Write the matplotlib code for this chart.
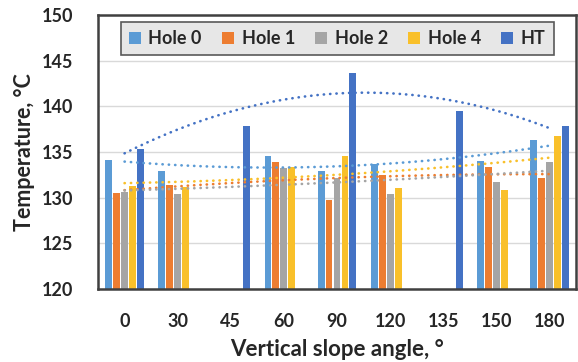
import matplotlib
matplotlib.use('Agg')
import numpy as np
import matplotlib.pyplot as plt

#-----------------------------------------------------------------------------
## Data
#-----------------------------------------------------------------------------
angles = ['0', '30', '45', '60', '90', '120', '135', '150', '180']
hole0 = [134.1, 132.9, np.nan, 134.6, 132.9, 133.7, np.nan, 134.05, 136.3]
hole1 = [130.5, 131.4, np.nan, 133.9, 129.7, 132.5, np.nan, 133.4, 132.2]
hole2 = [130.65, 130.4, np.nan, 133.2, 132.1, 130.4, np.nan, 131.7, 133.9]
hole4 = [131.3, 131.2, np.nan, 133.4, 134.6, 131.1, np.nan, 130.8, 136.7]
ht = [135.3, np.nan, 137.8, np.nan, 143.6, np.nan, 139.5, np.nan, 137.9]
names = ['Hole 0', 'Hole 1', 'Hole 2', 'Hole 4', 'HT']
yticks = [120, 125, 130, 135, 140, 145, 150]

#-----------------------------------------------------------------------------
## Figure settings
#-----------------------------------------------------------------------------
plt.rcParams['font.family'] = ['Lato', 'DejaVu Sans']
plt.rcParams['font.weight'] = 'bold'
txt = '#262626'
colors = ['#5B9BD5', '#ED7D31', '#A5A5A5', '#F9C02A', '#4472C4']

fig = plt.figure(figsize=(5.78, 3.62), dpi=100)
ax = fig.add_axes([98/578, 73/362, 478/578, 274/362])

x = np.arange(len(angles))
slot = 0.15
width = 0.13
series = [hole0, hole1, hole2, hole4, ht]
for i, (vals, c, n) in enumerate(zip(series, colors, names)):
    vals = np.array(vals, dtype=float)
    ok = ~np.isnan(vals)
    ax.bar(x[ok] + (i-2)*slot, vals[ok], width=width, color=c, label=n, zorder=2)

#-----------------------------------------------------------------------------
## Polynomial (order 2) trendlines, as in the spreadsheet
#-----------------------------------------------------------------------------
xx = np.linspace(0, len(angles)-1, 200)
for vals, c in zip(series, colors):
    vals = np.array(vals, dtype=float)
    ok = ~np.isnan(vals)
    p = np.polyfit(x[ok], vals[ok], 2)
    ax.plot(xx, np.polyval(p, xx), color=c, lw=1.9, linestyle=(0, (0.1, 2.3)),
            dash_capstyle='round', zorder=3)

ax.set_xlim(-0.5, len(angles)-0.5)
ax.set_ylim(120, 150)
ax.set_xticks(x)
ax.set_xticklabels(angles)
ax.set_yticks(yticks)
ax.tick_params(length=0, labelsize=13, labelcolor=txt)
ax.tick_params(axis='x', pad=17)
ax.tick_params(axis='y', pad=18)
ax.yaxis.grid(True, color='#D9D9D9', lw=1, zorder=0)
ax.set_axisbelow(True)
for s in ax.spines.values():
    s.set_color('#404040')
    s.set_linewidth(1.8)

ax.set_xlabel('Vertical slope angle, °', fontsize=16, fontweight='bold', color=txt, labelpad=7)
ax.set_ylabel('Temperature, °C', fontsize=15.5, fontweight='bold', color=txt, labelpad=5)

leg = ax.legend(loc='upper center', bbox_to_anchor=(0.5, 1.0), ncol=5, fontsize=13,
                frameon=True, fancybox=False, handlelength=0.7, handleheight=0.7,
                handletextpad=0.4, columnspacing=1.1, borderpad=0.45, borderaxespad=0.4)
leg.get_frame().set_facecolor('#E7E7E7')
leg.get_frame().set_edgecolor('#595959')
leg.get_frame().set_linewidth(1.2)
leg.get_frame().set_alpha(1)
for t in leg.get_texts():
    t.set_color(txt)

plt.savefig('out.png', dpi=100)
